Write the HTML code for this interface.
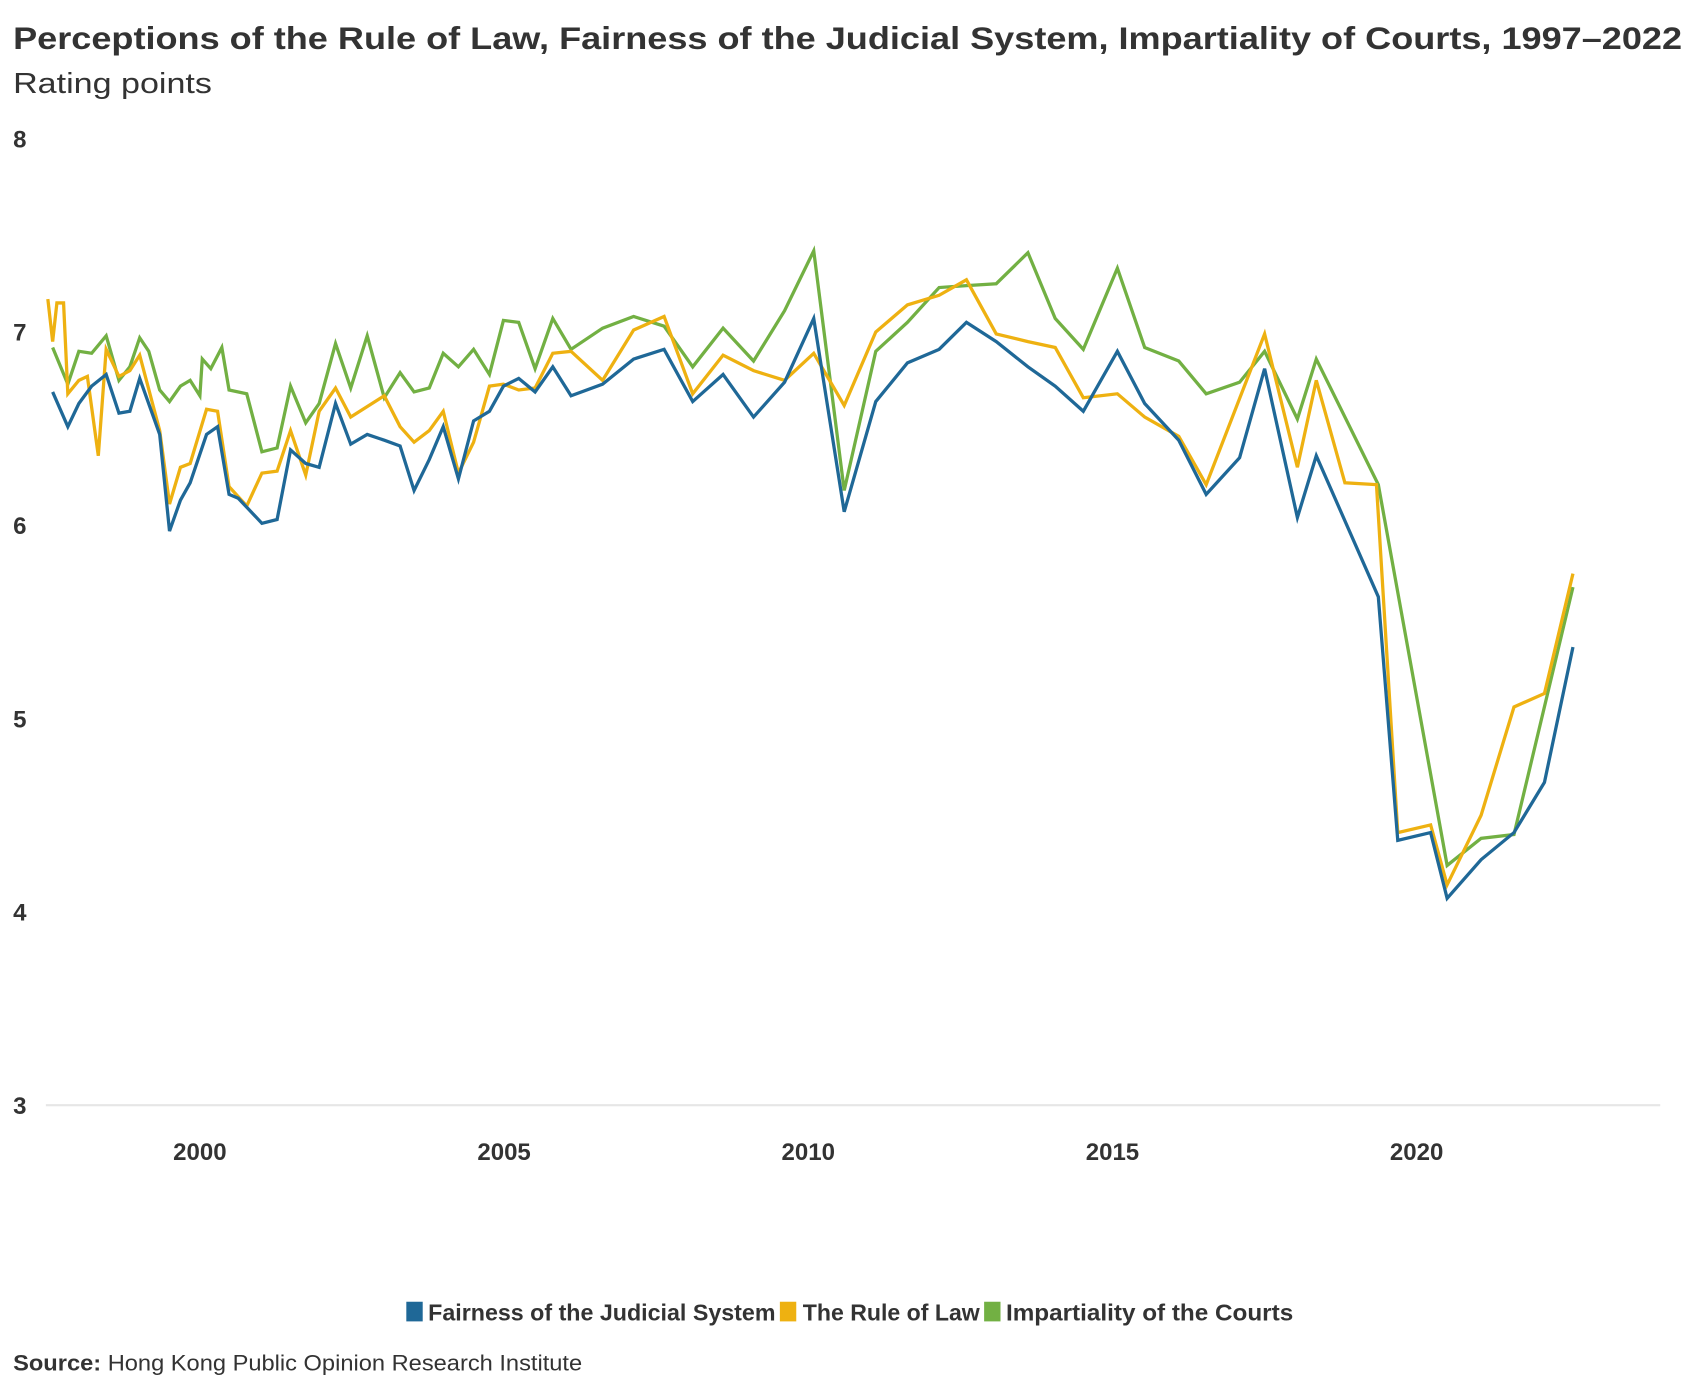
<!DOCTYPE html>
<html><head><meta charset="utf-8"><style>
html,body{margin:0;padding:0;background:#fff}
svg{display:block}
text{font-family:"Liberation Sans",sans-serif;fill:#333}
</style></head><body>
<svg id="chart" width="1693" height="1376" viewBox="0 0 1550 1260" preserveAspectRatio="none" xmlns="http://www.w3.org/2000/svg">
<text x="12" y="45" font-size="29" font-weight="bold" textLength="1528" lengthAdjust="spacingAndGlyphs">Perceptions of the Rule of Law, Fairness of the Judicial System, Impartiality of Courts, 1997–2022</text>
<text x="12" y="85" font-size="26" textLength="182" lengthAdjust="spacingAndGlyphs">Rating points</text>
<g id="yaxis"></g>
<g id="xaxis"></g>
<g id="series"></g>
<g>
<rect x="372" y="1192" width="15" height="18" fill="#1f6897"/>
<text x="392" y="1209" font-size="21" font-weight="bold" textLength="318" lengthAdjust="spacingAndGlyphs">Fairness of the Judicial System</text>
<rect x="714" y="1192" width="15" height="18" fill="#eeb111"/>
<text x="735" y="1209" font-size="21" font-weight="bold" textLength="162" lengthAdjust="spacingAndGlyphs">The Rule of Law</text>
<rect x="901" y="1192" width="15" height="18" fill="#72b043"/>
<text x="921" y="1209" font-size="21" font-weight="bold" textLength="263" lengthAdjust="spacingAndGlyphs">Impartiality of the Courts</text>
</g>
<text x="12" y="1255" font-size="20" textLength="521" lengthAdjust="spacingAndGlyphs"><tspan font-weight="bold">Source:</tspan> Hong Kong Public Opinion Research Institute</text>
</svg>
<script>
const yTicks=[3,4,5,6,7,8];
const xTicks=[2000,2005,2010,2015,2020];
const fairYears=[1997.58,1997.83,1998.01,1998.22,1998.46,1998.67,1998.85,1999.01,1999.34,1999.50,1999.68,1999.84,2000.11,2000.29,2000.48,2000.63,2001.02,2001.27,2001.49,2001.74,2001.96,2002.23,2002.48,2002.75,2003.03,2003.29,2003.52,2003.77,2004.00,2004.25,2004.50,2004.76,2004.99,2005.24,2005.51,2005.80,2006.10,2006.62,2007.13,2007.63,2008.10,2008.60,2009.10,2009.61,2010.09,2010.59,2011.11,2011.63,2012.15,2012.60,2013.09,2013.61,2014.06,2014.52,2015.08,2015.53,2016.09,2016.54,2017.09,2017.50,2018.04,2018.35,2019.37,2019.69,2020.23,2020.50,2021.06,2021.60,2022.10,2022.57];
const fairValues=[6.69,6.51,6.63,6.72,6.78,6.58,6.59,6.76,6.47,5.97,6.13,6.22,6.47,6.51,6.16,6.14,6.01,6.03,6.39,6.32,6.30,6.63,6.42,6.47,6.44,6.41,6.18,6.34,6.51,6.24,6.54,6.59,6.72,6.76,6.69,6.82,6.67,6.73,6.86,6.91,6.64,6.78,6.56,6.74,7.07,6.07,6.64,6.84,6.91,7.05,6.95,6.82,6.72,6.59,6.90,6.63,6.44,6.16,6.35,6.81,6.04,6.36,5.63,4.37,4.41,4.07,4.27,4.41,4.67,5.37];
const lawYears=[1997.50,1997.58,1997.65,1997.76,1997.83,1998.01,1998.15,1998.33,1998.46,1998.67,1998.85,1999.01,1999.34,1999.50,1999.68,1999.84,2000.11,2000.29,2000.48,2000.77,2001.02,2001.27,2001.49,2001.74,2001.96,2002.23,2002.48,2003.03,2003.29,2003.52,2003.77,2004.00,2004.25,2004.50,2004.76,2004.99,2005.24,2005.51,2005.80,2006.10,2006.62,2007.13,2007.63,2008.10,2008.60,2009.10,2009.61,2010.09,2010.59,2011.11,2011.63,2012.15,2012.60,2013.09,2013.61,2014.06,2014.52,2015.08,2015.53,2016.09,2016.54,2017.50,2018.04,2018.35,2018.82,2019.34,2019.69,2020.23,2020.50,2021.06,2021.60,2022.10,2022.57];
const lawValues=[7.17,6.95,7.15,7.15,6.68,6.75,6.77,6.36,6.91,6.77,6.80,6.88,6.49,6.11,6.30,6.32,6.60,6.59,6.20,6.10,6.27,6.28,6.49,6.26,6.59,6.71,6.56,6.67,6.51,6.43,6.49,6.59,6.27,6.43,6.72,6.73,6.70,6.71,6.89,6.90,6.75,7.01,7.08,6.68,6.88,6.80,6.75,6.89,6.62,7.00,7.14,7.19,7.27,6.99,6.95,6.92,6.66,6.68,6.56,6.46,6.21,6.99,6.30,6.75,6.22,6.21,4.41,4.45,4.14,4.50,5.06,5.13,5.75];
const impYears=[1997.58,1997.83,1998.01,1998.22,1998.46,1998.67,1998.85,1999.01,1999.16,1999.34,1999.50,1999.68,1999.84,2000.00,2000.04,2000.18,2000.36,2000.48,2000.77,2001.02,2001.27,2001.49,2001.74,2001.96,2002.23,2002.48,2002.75,2003.03,2003.29,2003.52,2003.77,2004.00,2004.25,2004.50,2004.76,2004.99,2005.24,2005.51,2005.80,2006.10,2006.62,2007.13,2007.63,2008.10,2008.60,2009.10,2009.61,2010.09,2010.59,2011.11,2011.63,2012.15,2012.60,2013.09,2013.61,2014.06,2014.52,2015.08,2015.53,2016.09,2016.54,2017.09,2017.50,2018.04,2018.35,2019.37,2020.50,2021.06,2021.60,2022.57];
const impValues=[6.92,6.73,6.90,6.89,6.98,6.75,6.82,6.97,6.90,6.70,6.64,6.72,6.75,6.67,6.86,6.81,6.92,6.70,6.68,6.38,6.40,6.72,6.53,6.63,6.94,6.71,6.98,6.66,6.79,6.69,6.71,6.89,6.82,6.91,6.78,7.06,7.05,6.81,7.07,6.91,7.02,7.08,7.03,6.82,7.02,6.85,7.11,7.42,6.18,6.90,7.05,7.23,7.24,7.25,7.41,7.07,6.91,7.33,6.92,6.85,6.68,6.74,6.90,6.55,6.86,6.21,4.24,4.38,4.40,5.68];

const NS='http://www.w3.org/2000/svg';
function xScale(yr){return 183+(yr-2000)*55.7;}
function yScale(v){return 127+(8-v)*177;}
function mk(tag,attrs,parent){const e=document.createElementNS(NS,tag);for(const k in attrs)e.setAttribute(k,attrs[k]);parent.appendChild(e);return e;}
const yaxis=document.getElementById('yaxis');
const base=mk('line',{x1:42,x2:1520,y1:yScale(3),y2:yScale(3),stroke:'#e6e6e6','stroke-width':2},yaxis);


yTicks.forEach(t=>{
  const tx=mk('text',{x:12,y:yScale(t)+8,'font-size':22,'font-weight':'bold'},yaxis);
  tx.textContent=t;
  
  
});
const xaxis=document.getElementById('xaxis');
xTicks.forEach(t=>{
  const tx=mk('text',{x:xScale(t),y:1062,'font-size':22,'font-weight':'bold','text-anchor':'middle'},xaxis);
  tx.textContent=t;
  
  
});
const g=document.getElementById('series');
function drawLine(years,vals,color,name){
  const d=years.map((y,i)=>(i?'L':'M')+xScale(y).toFixed(1)+','+yScale(vals[i]).toFixed(1)).join('');
  const p=mk('path',{d:d,fill:'none',stroke:color,'stroke-width':3,'stroke-linejoin':'miter'},g);
  
  
}
drawLine(impYears,impValues,'#72b043','line-impartiality-of-courts');
drawLine(lawYears,lawValues,'#eeb111','line-rule-of-law');
drawLine(fairYears,fairValues,'#1f6897','line-fairness-judicial-system');
</script>
</body></html>
